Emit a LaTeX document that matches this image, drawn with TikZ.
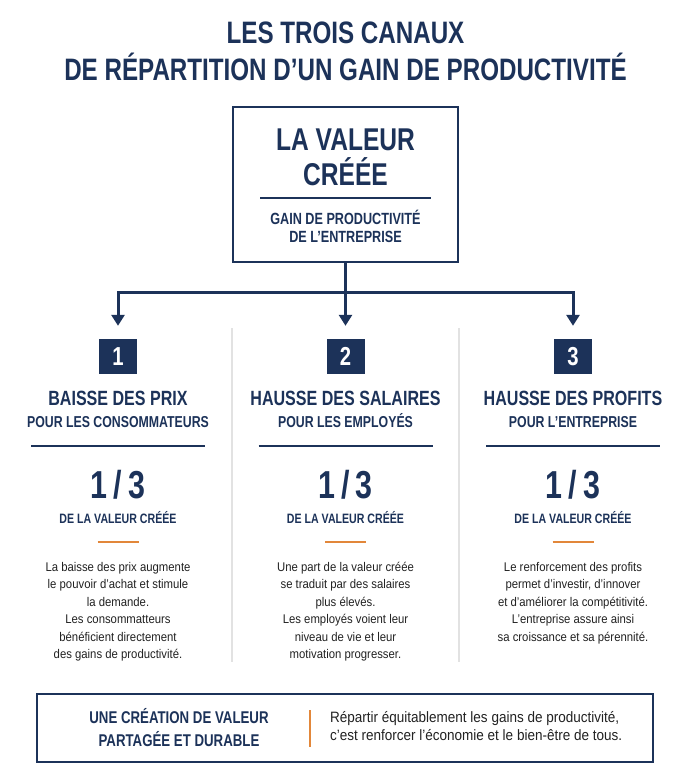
\documentclass[tikz,border=0pt]{standalone}
\usepackage{fontspec}
\setmainfont{Liberation Sans}
\newfontfamily\headf{Liberation Sans}[FakeStretch=0.78]
\newfontfamily\bodyf{Liberation Sans}[FakeStretch=0.9]
\usetikzlibrary{arrows.meta}
\definecolor{navy}{HTML}{1C3259}
\definecolor{orng}{HTML}{E2873A}
\definecolor{bodytx}{HTML}{222222}
\definecolor{sepc}{HTML}{E2E2E2}
\newcommand\hsz[1]{\headf\bfseries\fontsize{#1}{#1}\selectfont}
\newcommand\bsz[1]{\bodyf\fontsize{#1}{#1}\selectfont}
\begin{document}
\begin{tikzpicture}[x=1pt,y=-1pt,
  hd/.style={inner sep=0, anchor=base, text=navy},
  bd/.style={inner sep=0, anchor=base, text=bodytx, font=\bsz{12.6}},
  conn/.style={draw=navy, line width=3pt},
  arr/.style={conn, -{Triangle[width=13pt,length=11pt]}, shorten >=13pt},
  numbox/.style={fill=navy, text=white, minimum width=38pt, minimum height=35pt, inner sep=0, font=\hsz{26}},
  sepline/.style={draw=sepc, line width=1.2pt},
  rulen/.style={draw=navy, line width=1.6pt},
  ruleo/.style={draw=orng, line width=2.5pt},
  frame/.style={draw=navy, inner sep=0}]
\fill[white] (0,0) rectangle (699,768);
\useasboundingbox (0,0) rectangle (699,768);

% title
\node[hd, font=\hsz{31}] (ti1) at (345.5,44) {LES TROIS CANAUX};
\node[hd, font=\hsz{31}] (ti2) at (345.5,81) {DE RÉPARTITION D’UN GAIN DE PRODUCTIVITÉ};

% main box
\node[frame, line width=2.5pt, minimum width=225pt, minimum height=155pt] (box) at (345.5,184.5) {};
\node[hd, font=\hsz{31.5}] (v1) at (345.5,150) {LA VALEUR};
\node[hd, font=\hsz{31.5}] (v2) at (345.5,185) {CRÉÉE};
\draw[draw=navy, line width=2pt] (260,198) -- (431,198);
\node[hd, font=\hsz{16.2}] (g1) at (345.5,224) {GAIN DE PRODUCTIVITÉ};
\node[hd, font=\hsz{16.2}] (g2) at (345.5,242) {DE L’ENTREPRISE};

% separators
\draw[sepline] (232,328) -- (232,662);
\draw[sepline] (459,328) -- (459,662);

% number squares
\node[numbox] (n1) at (118,356.5) {1};
\node[numbox] (n2) at (345.5,356.5) {2};
\node[numbox] (n3) at (573,356.5) {3};

% connectors
\coordinate (j) at (345.5,292);
\draw[conn] (box.south) -- (j);
\draw[arr] (j) -- (n2.north);
\draw[arr] (j) -| (n1.north);
\draw[arr] (j) -| (n3.north);

% column 1
\node[hd, font=\hsz{20.6}] (h1) at (118,405) {BAISSE DES PRIX};
\node[hd, font=\hsz{15.8}] (s1) at (118,427) {POUR LES CONSOMMATEURS};
\draw[rulen] (31,446) -- (205,446);
\node[hd, font=\hsz{39}] (f1) at (118,498) {1\kern6pt/\kern6pt3};
\node[hd, font=\hsz{13.6}] (d1) at (118,523) {DE LA VALEUR CRÉÉE};
\draw[ruleo] (97.5,542) -- (138.5,542);
\node[bd] (b11) at (118,571) {La baisse des prix augmente};
\node[bd] (b12) at (118,588.5) {le pouvoir d’achat et stimule};
\node[bd] (b13) at (118,606) {la demande.};
\node[bd] (b14) at (118,623.5) {Les consommatteurs};
\node[bd] (b15) at (118,641) {bénéficient directement};
\node[bd] (b16) at (118,658.5) {des gains de productivité.};

% column 2
\node[hd, font=\hsz{20.6}] (h2) at (345.5,405) {HAUSSE DES SALAIRES};
\node[hd, font=\hsz{15.8}] (s2) at (345.5,427) {POUR LES EMPLOYÉS};
\draw[rulen] (258.5,446) -- (432.5,446);
\node[hd, font=\hsz{39}] (f2) at (345.5,498) {1\kern6pt/\kern6pt3};
\node[hd, font=\hsz{13.6}] (d2) at (345.5,523) {DE LA VALEUR CRÉÉE};
\draw[ruleo] (325,542) -- (366,542);
\node[bd] (b21) at (345.5,571) {Une part de la valeur créée};
\node[bd] (b22) at (345.5,588.5) {se traduit par des salaires};
\node[bd] (b23) at (345.5,606) {plus élevés.};
\node[bd] (b24) at (345.5,623.5) {Les employés voient leur};
\node[bd] (b25) at (345.5,641) {niveau de vie et leur};
\node[bd] (b26) at (345.5,658.5) {motivation progresser.};

% column 3
\node[hd, font=\hsz{20.6}] (h3) at (573,405) {HAUSSE DES PROFITS};
\node[hd, font=\hsz{15.8}] (s3) at (573,427) {POUR L’ENTREPRISE};
\draw[rulen] (486,446) -- (660,446);
\node[hd, font=\hsz{39}] (f3) at (573,498) {1\kern6pt/\kern6pt3};
\node[hd, font=\hsz{13.6}] (d3) at (573,523) {DE LA VALEUR CRÉÉE};
\draw[ruleo] (552.5,542) -- (593.5,542);
\node[bd] (b31) at (573,571) {Le renforcement des profits};
\node[bd] (b32) at (573,588.5) {permet d’investir, d’innover};
\node[bd] (b33) at (573,606) {et d’améliorer la compétitivité.};
\node[bd] (b34) at (573,623.5) {L’entreprise assure ainsi};
\node[bd] (b35) at (573,641) {sa croissance et sa pérennité.};

% bottom box
\node[frame, line width=2pt, minimum width=616pt, minimum height=68pt] (bbox) at (345,728) {};
\node[hd, font=\hsz{17}] (c1) at (179,723) {UNE CRÉATION DE VALEUR};
\node[hd, font=\hsz{17}] (c2) at (179,746) {PARTAGÉE ET DURABLE};
\draw[draw=orng, line width=2.5pt] (310,710) -- (310,747);
\node[bd, anchor=base west, font=\bsz{15}] (r1) at (330,722) {Répartir équitablement les gains de productivité,};
\node[bd, anchor=base west, font=\bsz{15}] (r2) at (330,740) {c’est renforcer l’économie et le bien-être de tous.};
\end{tikzpicture}
\end{document}
